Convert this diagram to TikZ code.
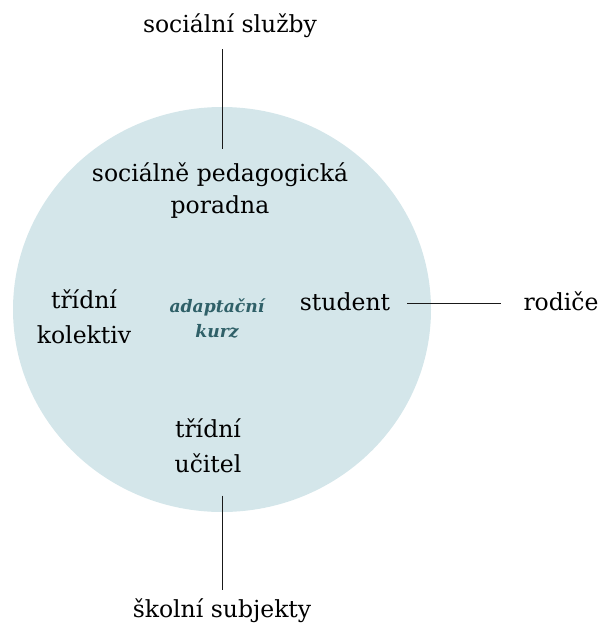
\documentclass[tikz,border=0pt]{standalone}
\usepackage{fontspec}
\setmainfont{DejaVu Serif}
\definecolor{circfill}{RGB}{212,230,234}
\definecolor{teal}{RGB}{47,96,104}
\begin{document}
\begin{tikzpicture}[x=1pt,y=-1pt,
  lbl/.style={font=\fontsize{23.5}{34}\selectfont, align=center, inner sep=0pt, anchor=base},
  core/.style={font=\fontsize{17.2}{25}\selectfont\bfseries\itshape, text=teal, align=center, inner sep=0pt, anchor=base},
  conn/.style={draw=black!90, line width=1pt}]
\useasboundingbox (0,0) rectangle (600,623);
\fill[circfill] (222,309.5) ellipse [x radius=209, y radius=202.5];
\coordinate (axis) at (222,0);
\node[lbl] (ss) at (230,33) {sociální služby};
\node[lbl,font=\fontsize{23.5}{32}\selectfont] (spp) at (220,213) {sociálně pedagogická\\poradna};
\node[lbl,font=\fontsize{23.5}{35}\selectfont] (tk) at (84,343) {třídní\\kolektiv};
\node[core] (ak) at (217,337) {adaptační\\kurz};
\node[lbl] (st) at (345,310) {student};
\node[lbl] (ro) at (561,310) {rodiče};
\node[lbl,font=\fontsize{23.5}{35}\selectfont] (tu) at (208,472) {třídní\\učitel};
\node[lbl] (sk) at (222,617) {školní subjekty};
\draw[conn, shorten <=11pt, shorten >=13pt] (ss.south -| axis) -- (spp.north -| axis);
\draw[conn, shorten <=17pt, shorten >=22pt] ([yshift=4pt]st.mid east) -- ([yshift=4pt]ro.mid west);
\draw[conn, shorten <=23pt, shorten >=8pt] (tu.south -| axis) -- (sk.north -| axis);
\end{tikzpicture}
\end{document}
